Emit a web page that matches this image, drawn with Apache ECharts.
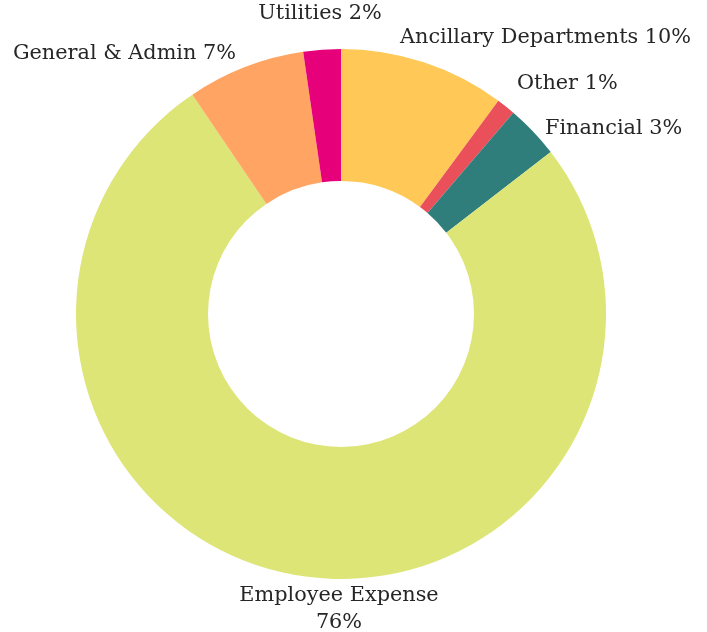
<!DOCTYPE html>
<html><head><meta charset="utf-8">
<script src="https://cdn.jsdelivr.net/npm/echarts@6/dist/echarts.min.js"></script>
<style>html,body{margin:0;padding:0;background:#fff}#c{width:707px;height:632px}</style>
</head><body><div id="c"></div>
<script>
const categories = ["Ancillary Departments", "Other", "Financial", "Employee Expense", "General & Admin", "Utilities"];
const values = [10.12, 1.15, 3.26, 76.0, 7.2, 2.28];
const colors = ["#FFC857", "#E9505A", "#307E7B", "#DDE577", "#FFA463", "#E6007A"];

// label anchor placement (layout only)
const labelPlace = [
  { x: 400, y: 38, align: 'left' },
  { x: 517, y: 84, align: 'left' },
  { x: 545, y: 129, align: 'left' },
  { x: 339, y: 609, align: 'center' },
  { x: 236, y: 54, align: 'right' },
  { x: 320, y: 14, align: 'center' }
];

const chart = echarts.init(document.getElementById('c'));
chart.setOption({
  animation: false,
  series: [{
    type: 'pie',
    center: [341, 314],
    radius: [133, 265],
    startAngle: 90,
    clockwise: true,
    avoidLabelOverlap: false,
    data: categories.map((n, i) => ({ name: n, value: values[i], itemStyle: { color: colors[i] } })),
    label: {
      show: true,
      position: 'outside',
      fontFamily: 'DejaVu Serif',
      fontSize: 20.8,
      lineHeight: 27,
      color: '#262626',
      formatter: p => p.name === 'Employee Expense' ? p.name + '\n' + Math.round(p.percent) + '%' : p.name + ' ' + Math.round(p.percent) + '%'
    },
    labelLine: { show: false },
    labelLayout: p => {
      const l = labelPlace[p.dataIndex];
      return { x: l.x, y: l.y, align: l.align, verticalAlign: 'middle' };
    }
  }]
});
</script></body></html>
